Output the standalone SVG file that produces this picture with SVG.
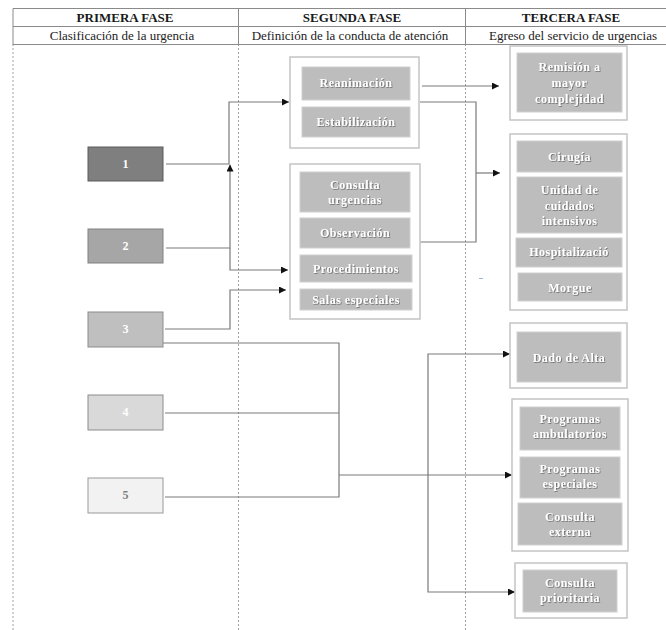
<svg xmlns="http://www.w3.org/2000/svg" width="666" height="630" viewBox="0 0 666 630">
<defs>
<style>
.hdr{font-family:"Liberation Serif",serif;font-size:13px;font-weight:bold;fill:#1a1a1a;text-anchor:middle}
.sub{font-family:"Liberation Serif",serif;font-size:13px;fill:#222;text-anchor:middle}
.col{stroke:#a0a0a0;stroke-width:1;stroke-dasharray:2,2;fill:none}
.rule{stroke:#8a8a8a;stroke-width:1;fill:none}
.outer{fill:#fff;stroke:#c4c4c4;stroke-width:1.5}
.inner{fill:#bdbdbd;stroke:#d0d0d0;stroke-width:1}
.t{font-family:"Liberation Serif",serif;font-size:12px;font-weight:bold;fill:#fff;text-anchor:middle;letter-spacing:0.5px;filter:url(#sh)}
.num{font-family:"Liberation Serif",serif;font-size:12px;font-weight:bold;text-anchor:middle}
.ln{stroke:#7a7a7a;stroke-width:1.2;fill:none}
.la{stroke:#7a7a7a;stroke-width:1.2;fill:none;marker-end:url(#ah)}
</style>
<marker id="ah" viewBox="0 0 10 10" refX="10" refY="5" markerWidth="7" markerHeight="7" markerUnits="userSpaceOnUse" orient="auto">
<path d="M0,0 L10,5 L0,10 Z" fill="#111"/>
</marker>
<filter id="sh" x="-10%" y="-30%" width="120%" height="160%">
<feDropShadow dx="0.8" dy="0.8" stdDeviation="0.4" flood-color="#555" flood-opacity="0.8"/>
</filter>
</defs>

<g id="columns">
<line class="col" x1="13" y1="44" x2="13" y2="630"/>
<line class="col" x1="238.5" y1="44" x2="238.5" y2="630"/>
<line class="col" x1="465.5" y1="44" x2="465.5" y2="630"/>
</g>

<g id="header">
<line class="rule" x1="13" y1="8.5" x2="666" y2="8.5"/>
<line class="rule" x1="13" y1="26.5" x2="666" y2="26.5"/>
<line class="rule" x1="13" y1="44.5" x2="666" y2="44.5"/>
<line class="rule" x1="13" y1="8.5" x2="13" y2="44.5"/>
<line class="rule" x1="238.5" y1="8.5" x2="238.5" y2="44.5"/>
<line class="rule" x1="465.5" y1="8.5" x2="465.5" y2="44.5"/>
<text class="hdr" x="125" y="22">PRIMERA FASE</text>
<text class="hdr" x="352" y="22">SEGUNDA  FASE</text>
<text class="hdr" x="571" y="22">TERCERA  FASE</text>
<text class="sub" x="122" y="40">Clasificación de la urgencia</text>
<text class="sub" x="350" y="40">Definición de la conducta de atención</text>
<text class="sub" x="573" y="40">Egreso del servicio de urgencias</text>
</g>

<g id="connectors">
<path class="la" d="M166,248 H230 V164.5"/>
<path class="la" d="M166,164 H229 V102 H289"/>
<path class="la" d="M230,248 V270 H288"/>
<path class="la" d="M165,329 H230 V290 H286"/>
<path class="ln" d="M163,343 H339 V497 H165"/>
<path class="ln" d="M165,413 H339"/>
<path class="la" d="M339,475 H512"/>
<path class="la" d="M428,475 V354 H510"/>
<path class="la" d="M428,475 V592 H515"/>
<path class="la" d="M422,86 H499"/>
<path class="ln" d="M420,102 H476 V242 H420"/>
<path class="la" d="M476,173 H500"/>
</g>

<g id="n1"><rect x="88" y="147" width="75" height="34" fill="#7f7f7f" stroke="#5a5a5a"/><text class="num" x="125.5" y="168" fill="#fff">1</text></g>
<g id="n2"><rect x="88" y="229" width="75" height="34" fill="#a6a6a6" stroke="#808080"/><text class="num" x="125.5" y="250" fill="#fff">2</text></g>
<g id="n3"><rect x="88" y="312" width="75" height="35" fill="#bfbfbf" stroke="#8c8c8c"/><text class="num" x="125.5" y="333" fill="#fff">3</text></g>
<g id="n4"><rect x="88" y="395" width="75" height="35" fill="#d9d9d9" stroke="#8c8c8c"/><text class="num" x="125.5" y="416" fill="#fff">4</text></g>
<g id="n5"><rect x="88" y="478" width="75" height="35" fill="#f2f2f2" stroke="#999"/><text class="num" x="125.5" y="499" fill="#7f7f7f">5</text></g>

<g id="reanimacion-group">
<rect class="outer" x="290" y="57" width="129" height="91"/>
<rect class="inner" x="302" y="67" width="108" height="33"/>
<text class="t" x="356" y="87">Reanimación</text>
<rect class="inner" x="302" y="107" width="108" height="30"/>
<text class="t" x="356" y="126">Estabilización</text>
</g>

<g id="consulta-group">
<rect class="outer" x="290" y="164" width="130" height="155"/>
<rect class="inner" x="300" y="172" width="110" height="40"/>
<text class="t" x="355" y="189">Consulta</text>
<text class="t" x="355" y="204">urgencias</text>
<rect class="inner" x="300" y="218" width="110" height="30"/>
<text class="t" x="355" y="237">Observación</text>
<rect class="inner" x="300" y="255" width="112" height="27"/>
<text class="t" x="356" y="273">Procedimientos</text>
<rect class="inner" x="300" y="289" width="112" height="21"/>
<text class="t" x="356" y="304">Salas especiales</text>
</g>

<g id="remision">
<rect class="outer" x="510" y="46" width="117" height="74"/>
<rect class="inner" x="517" y="53" width="105" height="59"/>
<text class="t" x="569.5" y="71">Remisión a</text>
<text class="t" x="569.5" y="87">mayor</text>
<text class="t" x="569.5" y="103">complejidad</text>
</g>

<g id="hospital-group">
<rect class="outer" x="510" y="134" width="117" height="176"/>
<rect class="inner" x="517" y="141" width="105" height="31"/>
<text class="t" x="569.5" y="161">Cirugía</text>
<rect class="inner" x="517" y="177" width="105" height="56"/>
<text class="t" x="569.5" y="194">Unidad  de</text>
<text class="t" x="569.5" y="210">cuidados</text>
<text class="t" x="569.5" y="225">intensivos</text>
<rect class="inner" x="516" y="238" width="106" height="29"/>
<text class="t" x="569" y="256">Hospitalizació</text>
<rect class="inner" x="518" y="273" width="104" height="28"/>
<text class="t" x="570" y="292">Morgue</text>
</g>

<line x1="479" y1="278.5" x2="483" y2="278.5" stroke="#9ab4d8" stroke-width="1"/>

<g id="alta">
<rect class="outer" x="510" y="323" width="117" height="65"/>
<rect class="inner" x="517" y="332" width="104" height="50"/>
<text class="t" x="569" y="362">Dado de Alta</text>
</g>

<g id="programas-group">
<rect class="outer" x="512" y="399" width="116" height="152"/>
<rect class="inner" x="520" y="407" width="100" height="43"/>
<text class="t" x="570" y="423">Programas</text>
<text class="t" x="570" y="438">ambulatorios</text>
<rect class="inner" x="520" y="457" width="100" height="41"/>
<text class="t" x="570" y="473">Programas</text>
<text class="t" x="570" y="488">especiales</text>
<rect class="inner" x="518" y="503" width="104" height="42"/>
<text class="t" x="570" y="521">Consulta</text>
<text class="t" x="570" y="536">externa</text>
</g>

<g id="prioritaria">
<rect class="outer" x="515" y="563" width="112" height="55"/>
<rect class="inner" x="523" y="570" width="94" height="42"/>
<text class="t" x="570" y="587">Consulta</text>
<text class="t" x="570" y="602">prioritaria</text>
</g>
</svg>
